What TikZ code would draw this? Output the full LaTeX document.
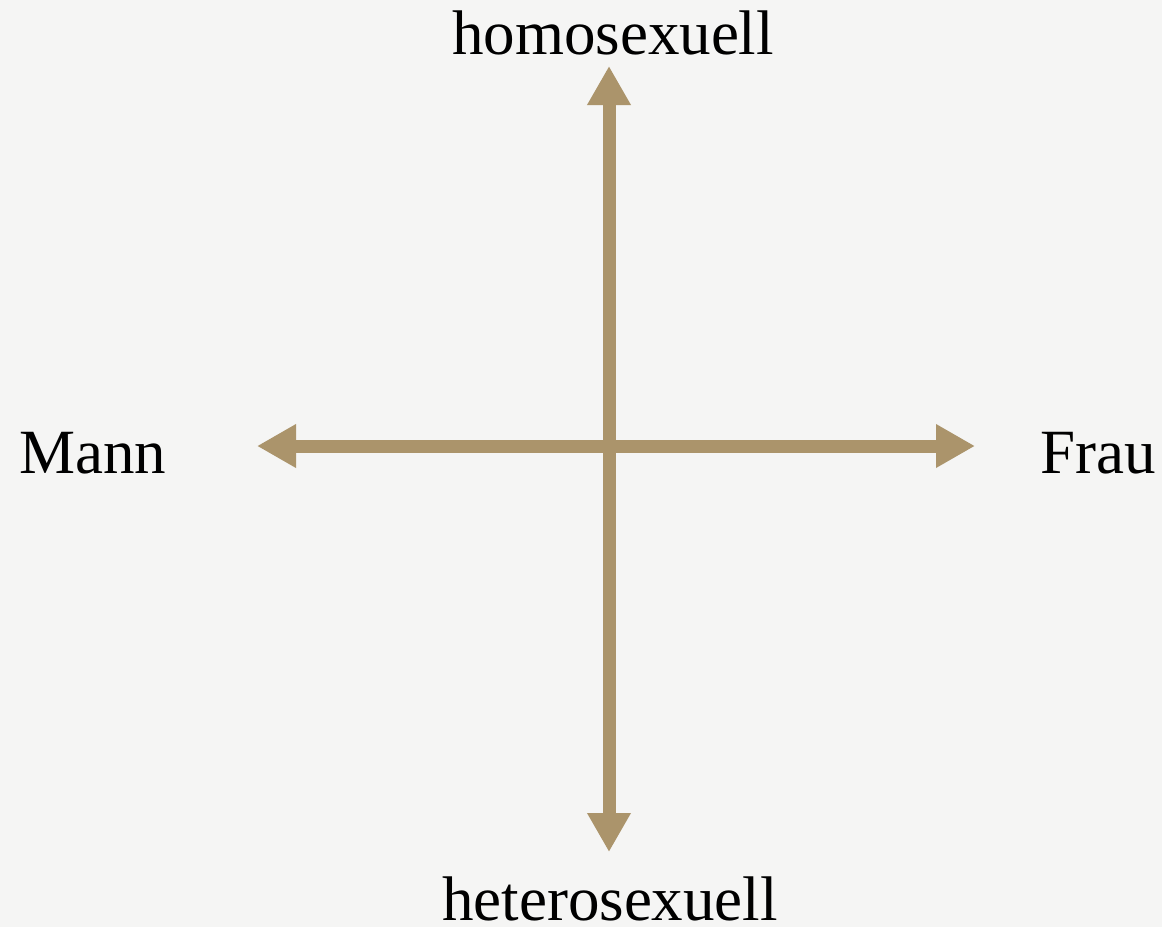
\documentclass[tikz,border=0pt]{standalone}
\usepackage{fontspec}
\setmainfont{Liberation Serif}
\usetikzlibrary{arrows.meta}
\definecolor{bgcol}{RGB}{245,245,244}
\definecolor{axiscol}{RGB}{171,148,107}
\tikzset{
  axislabel/.style={anchor=base, inner sep=0pt, font=\fontsize{63}{70}\selectfont, text=black},
  axisarrow/.style={draw=axiscol, line width=13pt, {Triangle[length=39pt,width=41pt]}-{Triangle[length=39pt,width=41pt]}, shorten <=0pt, shorten >=0pt}
}
\begin{document}
\begin{tikzpicture}[x=1pt,y=-1pt]
  \fill[bgcol] (0,0) rectangle (1162,927);
  \useasboundingbox (0,0) rectangle (1162,927);
  \coordinate (top) at (609,66);
  \coordinate (bottom) at (609,852);
  \coordinate (left) at (257,446);
  \coordinate (right) at (975,446);
  \draw[axisarrow] (bottom) -- (top);
  \draw[axisarrow] (left) -- (right);
  \node[axislabel] (homo) at (613,54) {homosexuell};
  \node[axislabel] (hetero) at (610,920) {heterosexuell};
  \node[axislabel] (mann) at (93,473) {Mann};
  \node[axislabel] (frau) at (1098,473) {Frau};
\end{tikzpicture}
\end{document}
